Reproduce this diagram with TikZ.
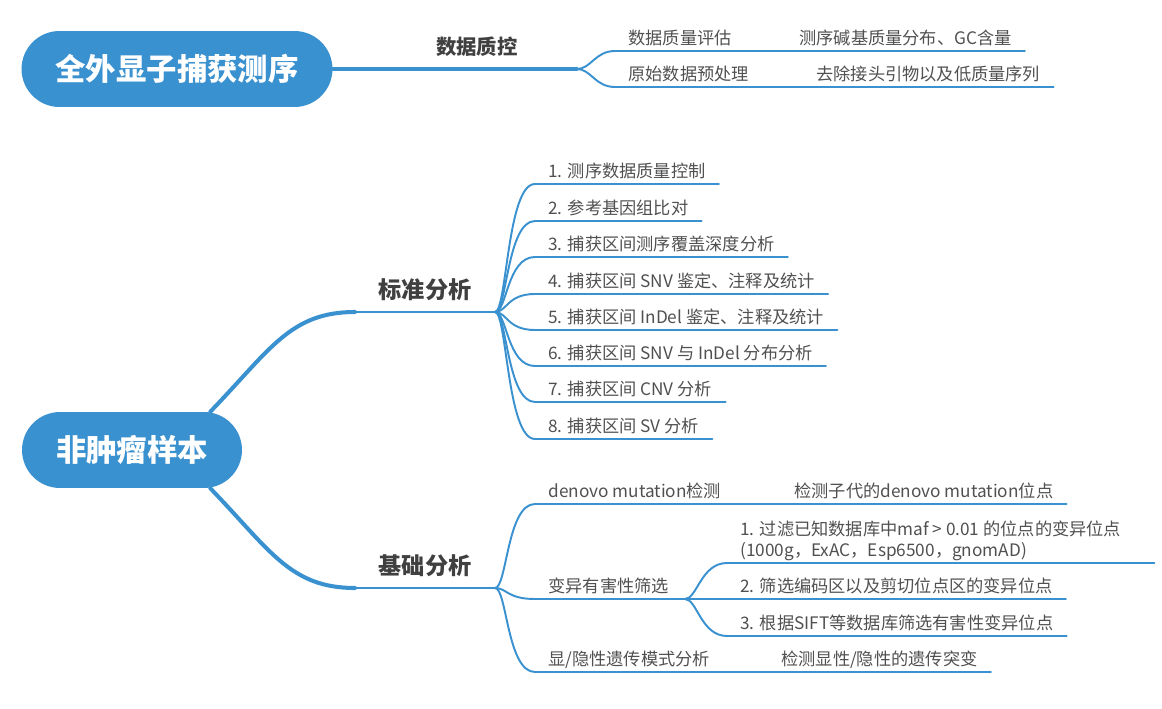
\documentclass[tikz,border=0pt]{standalone}
\usepackage{fontspec}
\setmainfont{Noto Sans CJK SC}
\usepackage{tikz}
\usetikzlibrary{positioning}
\definecolor{mapblue}{HTML}{3A91CF}
\definecolor{leafgray}{HTML}{505050}
\definecolor{labgray}{HTML}{404040}
\tikzset{>=latex}
\tikzset{
  rootpill/.style={fill=mapblue, text=white, rounded corners=0.76cm,
    minimum height=1.52cm, font=\bfseries\fontsize{17.3}{20}\selectfont},
  boughlab/.style={above, inner sep=0.2cm, text=labgray,
    font=\bfseries\fontsize{13.2}{15}\selectfont},
  leaf/.style={anchor=south west, inner xsep=0.26cm, inner ysep=0.06cm,
    text height=0.31cm, text depth=0.07cm, text=leafgray,
    font=\fontsize{9.8}{11.6}\selectfont},
  bough/.style={draw=mapblue, line width=2.3pt, line cap=round},
  twig/.style={draw=mapblue, line width=1.1pt, line cap=round}
}

\begin{document}
\begin{tikzpicture}[x=0.02cm, y=-0.02cm]
    \useasboundingbox (0,0) rectangle (1162,709);

    \node [rootpill, minimum width=6.22cm] (wes) at (177,69) {全外显子捕获测序};
    \coordinate (qcfork) at (577,69);
    \draw [twig, line width=1.8pt] (wes.east) -- node [boughlab, pos=0.59, inner sep=0.21cm,
        font=\bfseries\fontsize{11.6}{14}\selectfont] {数据质控} (qcfork);
    \node [leaf] (qceval) at (615,51) {数据质量评估};
    \node [leaf] (qcevalx) at (786,51) {测序碱基质量分布、GC含量};
    \node [leaf] (qcpre) at (615,87) {原始数据预处理};
    \node [leaf] (qcprex) at (803,87) {去除接头引物以及低质量序列};
    \draw [twig] (qcfork) .. controls +(14,0) and +(-20,0) .. (qceval.south west) -- (qcevalx.south east);
    \draw [twig] (qcfork) .. controls +(14,0) and +(-20,0) .. (qcpre.south west) -- (qcprex.south east);

    \node [rootpill, minimum width=4.4cm] (ntm) at (132,450) {非肿瘤样本};

    % standard analysis
    \coordinate (stdknee) at (355,312);
    \coordinate (stdfork) at (495,312);
    \draw [bough] ([xshift=-0.64cm]ntm.north east) .. controls (270,350) and (290,312) .. (stdknee);
    \draw [twig] (stdknee) -- node [boughlab] {标准分析} (stdfork);
    \node [leaf] (std1) at (535,184) {1. 测序数据质量控制};
    \node [leaf] (std2) at (535,221) {2. 参考基因组比对};
    \node [leaf] (std3) at (535,257) {3. 捕获区间测序覆盖深度分析};
    \node [leaf] (std4) at (535,294) {4. 捕获区间 SNV 鉴定、注释及统计};
    \node [leaf] (std5) at (535,330) {5. 捕获区间 InDel 鉴定、注释及统计};
    \node [leaf] (std6) at (535,366) {6. 捕获区间 SNV 与 InDel 分布分析};
    \node [leaf] (std7) at (535,402) {7. 捕获区间 CNV 分析};
    \node [leaf] (std8) at (535,439) {8. 捕获区间 SV 分析};
    \draw [twig] (stdfork) .. controls +(12,0) and +(-28,0) .. (std1.south west) -- (std1.south east);
    \draw [twig] (stdfork) .. controls +(12,0) and +(-28,0) .. (std2.south west) -- (std2.south east);
    \draw [twig] (stdfork) .. controls +(12,0) and +(-28,0) .. (std3.south west) -- (std3.south east);
    \draw [twig] (stdfork) .. controls +(12,0) and +(-28,0) .. (std4.south west) -- (std4.south east);
    \draw [twig] (stdfork) .. controls +(12,0) and +(-28,0) .. (std5.south west) -- (std5.south east);
    \draw [twig] (stdfork) .. controls +(12,0) and +(-28,0) .. (std6.south west) -- (std6.south east);
    \draw [twig] (stdfork) .. controls +(12,0) and +(-28,0) .. (std7.south west) -- (std7.south east);
    \draw [twig] (stdfork) .. controls +(12,0) and +(-28,0) .. (std8.south west) -- (std8.south east);

    % basic analysis
    \coordinate (basknee) at (355,588);
    \coordinate (basfork) at (495,588);
    \draw [bough] ([xshift=-0.64cm]ntm.south east) .. controls (270,550) and (290,588) .. (basknee);
    \draw [twig] (basknee) -- node [boughlab] {基础分析} (basfork);
    \node [leaf] (dnv) at (535,504) {denovo mutation检测};
    \node [leaf] (dnvx) at (781,504) {检测子代的denovo mutation位点};
    \node [leaf] (flt) at (535,599) {变异有害性筛选};
    \coordinate (fltfork) at (685,599);
    \node [leaf] (flt1) at (727,563) {\begin{tabular}[b]{@{}l@{\hspace{0.4cm}}}1. 过滤已知数据库中maf > 0.01 的位点的变异位点\\(1000g，ExAC，Esp6500，gnomAD)\end{tabular}};
    \node [leaf] (flt2) at (727,599) {2. 筛选编码区以及剪切位点区的变异位点};
    \node [leaf] (flt3) at (727,636) {3. 根据SIFT等数据库筛选有害性变异位点};
    \node [leaf] (inh) at (535,672) {显/隐性遗传模式分析};
    \node [leaf] (inhx) at (768,672) {检测显性/隐性的遗传突变};
    \draw [twig] (basfork) .. controls +(12,0) and +(-28,0) .. (dnv.south west) -- (dnvx.south east);
    \draw [twig] (basfork) .. controls +(12,0) and +(-28,0) .. (flt.south west) -- (fltfork);
    \draw [twig] (basfork) .. controls +(12,0) and +(-28,0) .. (inh.south west) -- (inhx.south east);
    \draw [twig] (fltfork) .. controls +(12,0) and +(-26,0) .. (flt1.south west) -- (flt1.south east);
    \draw [twig] (fltfork) -- (flt2.south west) -- (flt2.south east);
    \draw [twig] (fltfork) .. controls +(12,0) and +(-26,0) .. (flt3.south west) -- (flt3.south east);
\end{tikzpicture}
\end{document}
